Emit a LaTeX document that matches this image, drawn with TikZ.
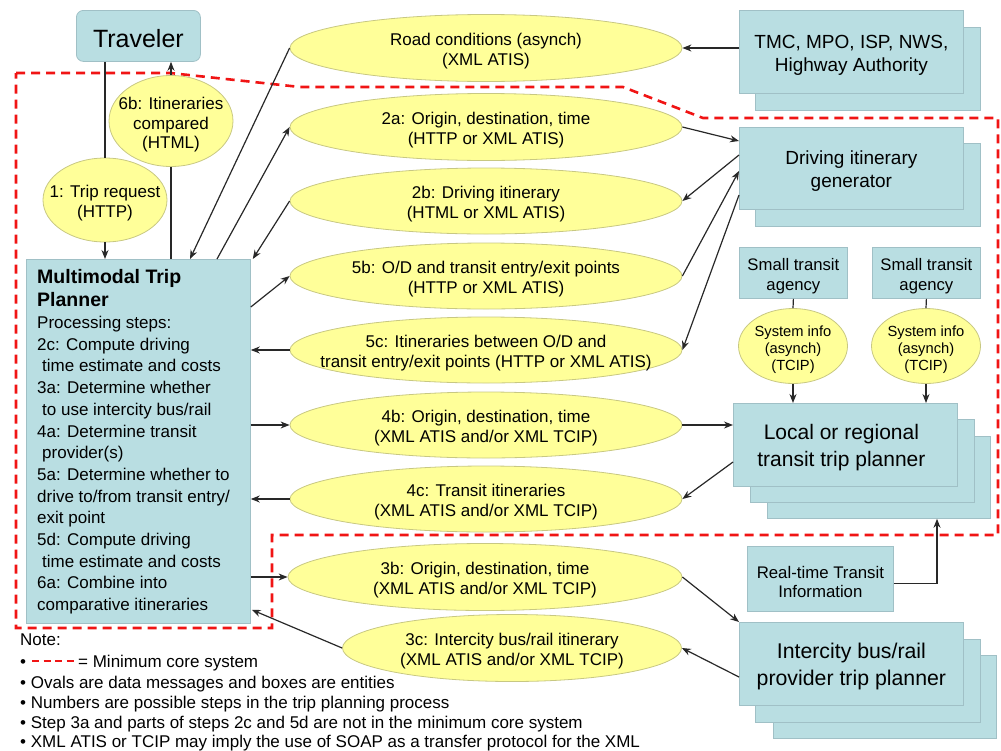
\documentclass[tikz,border=0pt]{standalone}
\usepackage{fontspec}
\setmainfont{Liberation Sans}
\usetikzlibrary{arrows.meta,shapes.geometric,calc}
\definecolor{boxfill}{RGB}{185,222,226}
\definecolor{boxline}{RGB}{160,192,198}
\definecolor{ovalfill}{RGB}{255,255,153}
\definecolor{ovalline}{RGB}{200,200,130}
\definecolor{linec}{RGB}{40,40,40}
\definecolor{dashred}{RGB}{240,20,20}
\begin{document}
\begin{tikzpicture}[x=1pt,y=-1pt,
 bbox/.style={draw=boxline,fill=boxfill,line width=0.8pt,inner sep=0pt,anchor=north west},
 btext/.style={align=center,inner sep=0pt,yshift=-3pt},
 oval/.style={ellipse,draw=ovalline,fill=ovalfill,line width=0.8pt,inner sep=0pt},
 otext/.style={align=center,font=\fontsize{17}{20}\selectfont,inner sep=0pt,yshift=-3pt},
 stext/.style={align=center,font=\fontsize{14.7}{16.7}\selectfont,inner sep=0pt,yshift=-3.5pt},
 conn/.style={draw=linec,line width=1.2pt},
 arr/.style={conn,-{Stealth[length=9pt,width=7pt]}},
 core/.style={draw=dashred,line width=2.6pt,dash pattern=on 9pt off 6pt},
 note/.style={anchor=base west,inner sep=0pt,font=\fontsize{17}{20}\selectfont}]

\useasboundingbox (0,0) rectangle (1001,750);

% minimum core system boundary
\draw[core] (16,73) -- (170,73) -- (300,87) -- (623,87) -- (703,118) -- (998,118)
  -- (998,535) -- (272,535) -- (272,628) -- (16,628) -- cycle;

% entities
\node[bbox,rounded corners=7pt,minimum width=124pt,minimum height=51pt,
  label={[btext,font=\fontsize{25}{28}\selectfont]center:Traveler}] (trav) at (76,10) {};

\node[bbox,minimum width=224pt,minimum height=364pt] (mtp) at (26,259) {};
\node[anchor=north west,inner sep=0pt,align=left,font=\fontsize{19.5}{23}\selectfont\bfseries] (mtptitle) at ($(mtp.north west)+(11,10)$) {Multimodal Trip\\Planner};
\node[anchor=north west,inner sep=0pt,align=left,font=\fontsize{17}{21.7}\selectfont] (mtpsteps) at ($(mtp.north west)+(11,57)$)
 {Processing steps:\\
  2c: Compute driving\\
  \hspace*{5pt}time estimate and costs\\
  3a: Determine whether\\
  \hspace*{5pt}to use intercity bus/rail\\
  4a: Determine transit\\
  \hspace*{5pt}provider(s)\\
  5a: Determine whether to\\
  drive to/from transit entry/\\
  exit point\\
  5d: Compute driving\\
  \hspace*{5pt}time estimate and costs\\
  6a: Combine into\\
  comparative itineraries};

\node[bbox,minimum width=225pt,minimum height=83pt] (tmcb) at (755,27) {};
\node[bbox,minimum width=224pt,minimum height=83pt,
  label={[btext,font=\fontsize{19}{23}\selectfont]center:{TMC, MPO, ISP, NWS,\\Highway Authority}}] (tmc) at (739,10) {};

\node[bbox,minimum width=225pt,minimum height=83pt] (drvb) at (755,143) {};
\node[bbox,minimum width=224pt,minimum height=82pt,
  label={[btext,font=\fontsize{19}{23}\selectfont]center:{Driving itinerary\\generator}}] (drv) at (739,127) {};

\node[bbox,minimum width=108pt,minimum height=51pt,
  label={[btext,yshift=-0.5pt,font=\fontsize{16.7}{20}\selectfont]center:{Small transit\\agency}}] (sta1) at (739,247) {};
\node[bbox,minimum width=108pt,minimum height=51pt,
  label={[btext,yshift=-0.5pt,font=\fontsize{16.7}{20}\selectfont]center:{Small transit\\agency}}] (sta2) at (872,247) {};

\node[bbox,minimum width=223pt,minimum height=82pt] (locc) at (767,436) {};
\node[bbox,minimum width=224pt,minimum height=83pt] (locb) at (750,419) {};
\node[bbox,minimum width=224pt,minimum height=83pt,
  label={[btext,xshift=-4pt,font=\fontsize{21}{27}\selectfont]center:{Local or regional\\transit trip planner}}] (loc) at (733,403) {};

\node[bbox,minimum width=146pt,minimum height=65pt,
  label={[btext,font=\fontsize{16.8}{19.5}\selectfont]center:{Real-time Transit\\Information}}] (rtti) at (747,546) {};

\node[bbox,minimum width=223pt,minimum height=83pt] (icc) at (773,655) {};
\node[bbox,minimum width=225pt,minimum height=83pt] (icb) at (755,639) {};
\node[bbox,minimum width=224pt,minimum height=83pt,
  label={[btext,font=\fontsize{21.3}{27}\selectfont]center:{Intercity bus/rail\\provider trip planner}}] (ic) at (739,622) {};

% data messages
\node[oval,minimum width=124pt,minimum height=91pt,label={[otext,yshift=-1pt,font=\fontsize{17}{19.5}\selectfont]center:{6b: Itineraries\\compared\\(HTML)}}] (e6b) at (171,121) {};
\node[oval,minimum width=124pt,minimum height=84pt,label={[otext]center:{1: Trip request\\(HTTP)}}] (e1) at (105,200) {};
\node[oval,minimum width=392pt,minimum height=67pt,label={[otext]center:{Road conditions (asynch)\\(XML ATIS)}}] (road) at (486,48) {};
\node[oval,minimum width=392pt,minimum height=67pt,label={[otext]center:{2a: Origin, destination, time\\(HTTP or XML ATIS)}}] (e2a) at (486,127) {};
\node[oval,minimum width=392pt,minimum height=66pt,label={[otext]center:{2b: Driving itinerary\\(HTML or XML ATIS)}}] (e2b) at (486,201) {};
\node[oval,minimum width=392pt,minimum height=66pt,label={[otext]center:{5b: O/D and transit entry/exit points\\(HTTP or XML ATIS)}}] (e5b) at (486,276) {};
\node[oval,minimum width=392pt,minimum height=66pt,label={[otext]center:{5c: Itineraries between O/D and\\transit entry/exit points (HTTP or XML ATIS)}}] (e5c) at (486,350) {};
\node[oval,minimum width=392pt,minimum height=66pt,label={[otext]center:{4b: Origin, destination, time\\(XML ATIS and/or XML TCIP)}}] (e4b) at (486,425) {};
\node[oval,minimum width=392pt,minimum height=66pt,label={[otext]center:{4c: Transit itineraries\\(XML ATIS and/or XML TCIP)}}] (e4c) at (486,499) {};
\node[oval,minimum width=394pt,minimum height=67pt,label={[otext]center:{3b: Origin, destination, time\\(XML ATIS and/or XML TCIP)}}] (e3b) at (485,577) {};
\node[oval,minimum width=339pt,minimum height=67pt,label={[otext]center:{3c: Intercity bus/rail itinerary\\(XML ATIS and/or XML TCIP)}}] (e3c) at (512,648) {};
\node[oval,minimum width=109pt,minimum height=75pt,label={[stext]center:{System info\\(asynch)\\(TCIP)}}] (sys1) at (793,346) {};
\node[oval,minimum width=109pt,minimum height=75pt,label={[stext]center:{System info\\(asynch)\\(TCIP)}}] (sys2) at (926,346) {};

% connectors
\draw[conn] (trav.south -| e1.north) -- (e1.north);
\draw[arr] (e1.south) -- (e1.south |- mtp.north);
\draw[conn] (mtp.north -| e6b.south) -- (e6b.south);
\draw[arr] (e6b.north) -- (e6b.north |- trav.south);
\draw[arr] (road.west) -- ($(mtp.north west)+(164,0)$);
\draw[arr] ($(mtp.north west)+(191,0)$) -- (e2a.west);
\draw[arr] (e2b.west) -- ($(mtp.north east)+(2,0)$);
\draw[arr] ($(mtp.north east)+(0,48)$) -- (e5b.west);
\draw[arr] (e5c.west) -- (e5c.west -| mtp.east);
\draw[arr] (e4b.west -| mtp.east) -- (e4b.west);
\draw[arr] (e4c.west) -- (e4c.west -| mtp.east);
\draw[arr] (e3b.west -| mtp.east) -- (e3b.west);
\draw[arr] (e3c.west) -- ($(mtp.south east)+(1,-14)$);
\draw[arr] (road.east -| tmc.west) -- (road.east);
\draw[arr] (e2a.east) -- ($(drv.north west)+(0,14)$);
\draw[arr] ($(drv.north west)+(0,28)$) -- (e2b.east);
\draw[arr] (e5b.east) -- ($(drv.north west)+(0,44)$);
\draw[arr] ($(drv.north west)+(0,68)$) -- (e5c.east);
\draw[conn] (sta1.south) -- (sys1.north);
\draw[conn] (sta2.south) -- (sys2.north);
\draw[arr] (sys1.south) -- (sys1.south |- loc.north);
\draw[arr] (sys2.south) -- (sys2.south |- loc.north);
\draw[arr] (e4b.east) -- (e4b.east -| loc.west);
\draw[arr] ($(loc.north west)+(0,59)$) -- (e4c.east);
\draw[arr] (e3b.east) -- (ic.north west);
\draw[arr] ($(ic.north west)+(0,55)$) -- (e3c.east);
\draw[arr] ($(rtti.south east)+(0,-28)$) -| ($(locc.south west)+(170,0)$);

% notes
\node[note] (notehead) at (20,645) {Note:};
\node[note] (n1) at (20,667) {•};
\draw[core,line width=2.5pt,dash pattern=on 7pt off 4.5pt] (32,661) -- (74,661);
\node[note] (n1t) at (78,667) {= Minimum core system};
\node[note] (n2) at (20,688) {• Ovals are data messages and boxes are entities};
\node[note] (n3) at (20,708) {• Numbers are possible steps in the trip planning process};
\node[note] (n4) at (20,728) {• Step 3a and parts of steps 2c and 5d are not in the minimum core system};
\node[note] (n5) at (20,747) {• XML ATIS or TCIP may imply the use of SOAP as a transfer protocol for the XML};
\end{tikzpicture}
\end{document}
